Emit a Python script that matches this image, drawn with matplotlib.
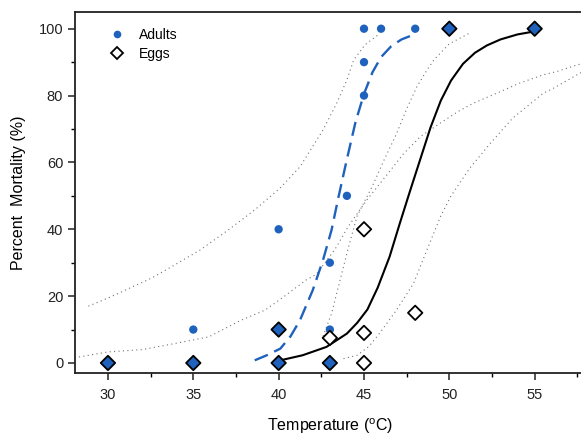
import matplotlib
matplotlib.use("Agg")
import matplotlib.pyplot as plt
from matplotlib.lines import Line2D
from matplotlib.ticker import MultipleLocator

plt.rcParams["font.family"] = ["Liberation Sans", "DejaVu Sans"]
plt.rcParams["mathtext.fontset"] = "custom"
plt.rcParams["mathtext.rm"] = "Liberation Sans"

# observed mortality (%)
adult_temp = [30, 35, 35, 40, 40, 40, 43, 43, 43, 44, 45, 45, 45, 46, 48, 50, 55]
adult_mort = [0, 0, 10, 0, 10, 40, 0, 10, 30, 50, 80, 90, 100, 100, 100, 100, 100]
egg_temp = [30, 35, 40, 40, 43, 43, 45, 45, 45, 48, 50, 55]
egg_mort = [0, 0, 0, 10, 0, 7.5, 0, 9, 40, 15, 100, 100]

# fitted curves
adult_fit_t = [38.6, 39.3, 40.1, 40.7, 41.25, 42.0, 42.6, 43.1, 43.5, 44.0, 44.5, 45.0, 45.5, 46.0,
               46.6, 47.2, 47.9]
adult_fit_m = [0.8, 2.3, 4.3, 8.0, 12.8, 21.8, 30.8, 39.8, 49.5, 61.0, 72.0, 80.5, 87.0, 91.5,
               94.8, 96.8, 98.2]
egg_fit_t = [40.1, 41.4, 42.8, 44.0, 44.6, 45.2, 45.8, 46.5, 47.1, 47.7, 48.3, 48.9, 49.5, 50.1,
             50.8, 51.5, 52.2, 53.0, 54.0, 55.0]
egg_fit_m = [0.8, 2.3, 4.8, 8.8, 12.0, 16.0, 22.5, 31.8, 41.8, 51.5, 61.0, 70.5, 78.5, 84.5,
             89.5, 92.8, 95.0, 96.8, 98.3, 99.2]

# 95% confidence bands
adult_hi_t = [28.85, 30, 32.56, 33.73, 35.4, 37.05, 38.6, 40.1, 41.25, 42.6, 43.4, 44.0, 44.4, 45.06, 45.84]
adult_hi_m = [17, 19.4, 25.4, 28.8, 33.8, 39.8, 45.8, 52.4, 58.7, 69.7, 77.7, 84.7, 90.7, 95.2, 98.2]
adult_lo_t = [42.6, 43.1, 43.6, 44.1, 44.6, 45.5, 46.2, 46.9, 47.5, 48.1, 48.7, 49.1, 50.0, 51.2]
adult_lo_m = [8, 14.8, 24.8, 34.8, 44, 53, 61, 68.5, 76, 82.7, 87.7, 90.7, 95.5, 98.7]
egg_hi_t = [28.3, 30, 32, 33.9, 35.9, 37.8, 39.2, 40.3, 41.6, 42.2, 43.3, 44.1, 45.2, 46.3, 47.3, 48.3,
            49.45, 50.5, 51.4, 53, 54.1, 55.5, 56.3, 57.5, 58]
egg_hi_m = [1.8, 3.3, 4, 5.8, 7.8, 12.8, 15.8, 19.8, 24.8, 26.5, 34, 41, 49, 56, 62.5, 67.7,
            71.7, 75.2, 77.7, 81.2, 83.7, 86.2, 87.2, 89.2, 89.8]
egg_lo_t = [43.8, 44.6, 45.3, 45.9, 46.9, 47.9, 48.86, 49.5, 50.1, 51.2, 52.4, 53.7, 55.5, 56.1, 57.65, 58]
egg_lo_m = [1.3, 2.3, 5, 8.8, 15.8, 23.8, 36, 44, 50, 58.3, 65.7, 73.2, 80.7, 82.2, 86.7, 87.5]

blue = "#1f62bd"

W, H = 581, 436
fig = plt.figure(figsize=(W / 100, H / 100), dpi=100)
x0, x1 = 28.07, 58.0
px_per_deg = 17.07
ax = fig.add_axes([75 / W, (H - 373) / H, (x1 - x0) * px_per_deg / W, (373 - 12) / H])

dot = (0, (1, 3))
for t, m in [(adult_hi_t, adult_hi_m), (adult_lo_t, adult_lo_m),
             (egg_hi_t, egg_hi_m), (egg_lo_t, egg_lo_m)]:
    ax.plot(t, m, color="0.45", lw=0.8, linestyle=dot, zorder=1)

ax.plot(adult_fit_t, adult_fit_m, color=blue, lw=1.7, dashes=(6, 3), zorder=2)
ax.plot(egg_fit_t, egg_fit_m, color="black", lw=1.5, zorder=2)

ax.scatter(adult_temp, adult_mort, s=36, color=blue, edgecolors="none", zorder=3)

adult_pts = set(zip(adult_temp, adult_mort))
egg_face = [blue if (t, m) in adult_pts else "white" for t, m in zip(egg_temp, egg_mort)]
ax.scatter(egg_temp, egg_mort, s=54, marker="D", facecolors=egg_face,
           edgecolors="black", linewidths=1.3, zorder=4)

ax.set_xlim(x0, x1)
ax.set_ylim(-3, 105)
ax.xaxis.set_major_locator(MultipleLocator(5))
ax.xaxis.set_minor_locator(MultipleLocator(2.5))
ax.yaxis.set_major_locator(MultipleLocator(20))
ax.yaxis.set_minor_locator(MultipleLocator(10))
ax.tick_params(which="major", direction="out", length=5, width=1.1, labelsize=10.5, colors="#222222")
ax.tick_params(which="minor", direction="out", length=3, width=1.0)
ax.tick_params(axis="x", pad=6)
for s in ["left", "bottom", "top"]:
    ax.spines[s].set_linewidth(1.3)
    ax.spines[s].set_color("#222222")
ax.spines["right"].set_visible(False)

ax.set_xlabel("Temperature ($^{\\rm o}$C)", fontsize=11.5, labelpad=10)
ax.set_ylabel("Percent  Mortality (%)", fontsize=11.5, labelpad=9)

handles = [
    Line2D([], [], marker="o", color=blue, linestyle="none", markersize=5.5, markeredgewidth=0),
    Line2D([], [], marker="D", markerfacecolor="white", markeredgecolor="black",
           linestyle="none", markersize=6.5, markeredgewidth=1.3),
]
ax.legend(handles, ["Adults", "Eggs"], loc="upper left", bbox_to_anchor=(0.03, 0.99),
          frameon=False, fontsize=10, handletextpad=0.6, labelspacing=0.35)

fig.savefig("out.png", dpi=100)
